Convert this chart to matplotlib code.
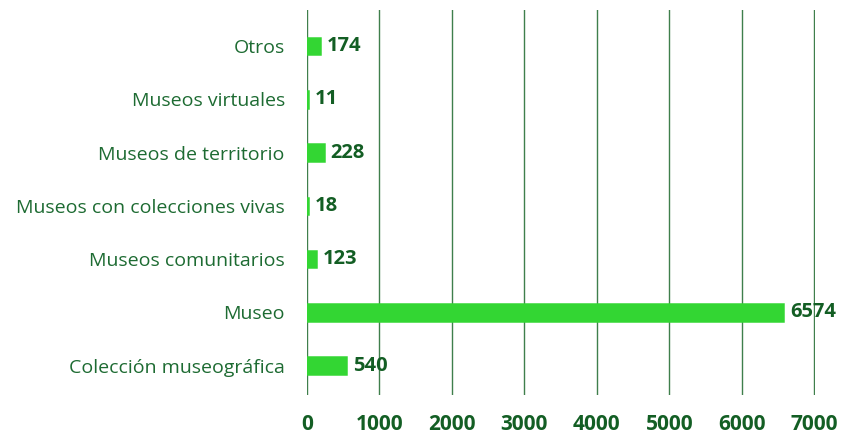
import numpy as np
import matplotlib.pyplot as plt

categories = ['Colección museográfica', 'Museo', 'Museos comunitarios',
              'Museos con colecciones vivas', 'Museos de territorio',
              'Museos virtuales', 'Otros']
values = [540, 6574, 123, 18, 228, 11, 174]
x_ticks = [0, 1000, 2000, 3000, 4000, 5000, 6000, 7000]

bar_color = '#33d633'
text_color = '#1d6b32'
grid_color = '#3f7f4c'

plt.rcParams['font.family'] = ['Open Sans', 'DejaVu Sans']

fig = plt.figure(figsize=(8.43, 4.37), dpi=100)
ax = fig.add_axes([307 / 843, 42 / 437, (815 - 307) / 843, (395 - 10) / 437])

y = np.arange(len(categories))
ax.barh(y, values, height=0.31, color=bar_color, edgecolor=bar_color,
        linewidth=1.8, zorder=3)

for yi, v in zip(y, values):
    ax.annotate(str(v), (v, yi), xytext=(5, 0), textcoords='offset points',
                ha='left', va='center', fontsize=14.5, fontweight='bold',
                color='#135e24', zorder=4, annotation_clip=False)

ax.set_xlim(0, 7010)
ax.set_ylim(-0.55, 6.675)
ax.set_xticks(x_ticks)
ax.set_xticklabels([str(t) for t in x_ticks], fontsize=15, fontweight='bold', color='#135e24')
ax.set_yticks(y)
ax.set_yticklabels(categories, fontsize=14, color=text_color)
ax.tick_params(axis='both', length=0)
ax.tick_params(axis='x', pad=14)
ax.tick_params(axis='y', pad=16)

ax.grid(axis='x', color=grid_color, linewidth=1, zorder=0)
ax.axvline(0, color='#1d6b32', linewidth=1.3, zorder=1)
for s in ax.spines.values():
    s.set_visible(False)

fig.savefig('out.png', dpi=100)
